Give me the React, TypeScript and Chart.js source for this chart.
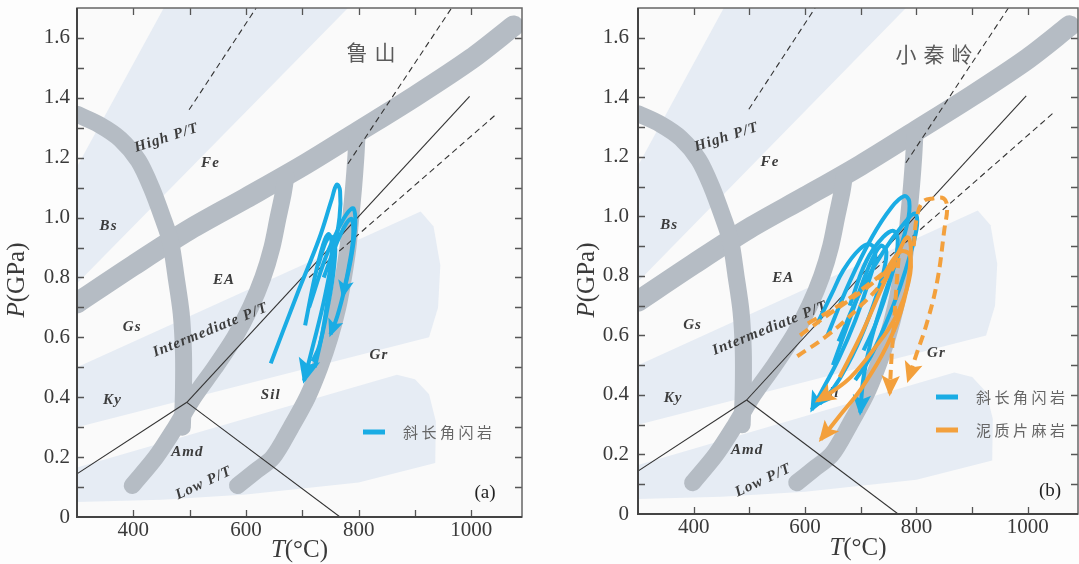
import React, { useEffect, useRef } from "react";
import { Chart, registerables } from "chart.js";

Chart.register(...registerables);

type Pt = [number, number];

const CANVAS_H = 564;
const BLUE = "#1aace4";
const ORANGE = "#f3a03c";
const GRAY = "#b5bcc4";
const BAND = "#e6ecf4";
const PLOT_BG = "#fafafa";
const PAGE_BG = "#fdfdfd";
const INK = "#3a3a3a";
const SERIF = '"Liberation Serif", "DejaVu Serif", serif';
const CJK = '"Noto Sans CJK SC", "Noto Sans CJK JP", sans-serif';

// ---- axes ----
const T_RANGE: Pt = [300, 1090];
const P_RANGE: Pt = [0, 1.7];
const xLabelValues = [400, 600, 800, 1000];
const xTickMarks = [400, 500, 600, 700, 800, 900, 1000];
const yTickMarks = [0.1, 0.2, 0.3, 0.4, 0.5, 0.6, 0.7, 0.8, 0.9, 1.0, 1.1, 1.2, 1.3, 1.4, 1.5, 1.6];

// ---- facies-series bands (T °C, P GPa) ----
const bandHighPT: Pt[] = [[454, 1.7], [781, 1.7], [300, 0.78], [300, 1.17]];
const bandInterPT: Pt[] = [[300, 0.3], [300, 0.5], [910, 1.02], [933, 0.97], [945, 0.84], [941, 0.7], [925, 0.6]];
const bandLowPT: Pt[] = [[300, 0.05], [300, 0.165], [868, 0.475], [900, 0.46], [925, 0.41], [937, 0.32], [936, 0.18], [800, 0.115], [600, 0.075], [450, 0.058]];

// ---- facies boundaries (thick gray) ----
const zoneDiag: Pt[] = [[300, 0.715], [400, 0.84], [500, 0.96], [600, 1.065], [700, 1.172], [800, 1.288], [900, 1.405], [1000, 1.53], [1075, 1.64]];
const zoneBs: Pt[] = [[300, 1.345], [340, 1.31], [377, 1.262], [409, 1.19], [432, 1.1], [452, 1.0], [466, 0.92], [476, 0.8], [485, 0.68], [489, 0.55], [489, 0.42], [487, 0.3]];
const zoneEA: Pt[] = [[398, 0.105], [440, 0.2], [475, 0.3], [507, 0.4], [545, 0.5], [580, 0.6], [608, 0.7], [630, 0.8], [646, 0.9], [657, 1.0], [666, 1.08], [671, 1.14]];
const zoneGr: Pt[] = [[585, 0.105], [615, 0.15], [648, 0.2], [680, 0.3], [709, 0.4], [731, 0.5], [749, 0.6], [763, 0.7], [773, 0.8], [781, 0.9], [786, 1.0], [791, 1.1], [795, 1.2], [797, 1.27]];

// ---- Al2SiO5 lines (thin) and dashed lines ----
const alKyAnd: Pt[] = [[300, 0.144], [495, 0.383]];
const alKySil: Pt[] = [[495, 0.383], [997, 1.405]];
const alAndSil: Pt[] = [[495, 0.383], [767, 0]];
const dashA: Pt[] = [[499, 1.36], [618, 1.7]];
const dashB: Pt[] = [[781, 1.18], [965, 1.7]];
const dashC: Pt[] = [[712, 0.8], [1046, 1.348]];

// ---- P-T paths, 鲁山 ----
const luBlue1: Pt[] = [[644, 0.513], [690, 0.74], [730, 0.93], [752, 1.06], [761, 1.11], [767, 1.09], [766, 1.0], [753, 0.86], [737, 0.71], [720, 0.58], [703, 0.455]];
const luBlue2: Pt[] = [[705, 0.64], [722, 0.8], [737, 0.91], [746, 0.945], [752, 0.92], [750, 0.82], [743, 0.7], [733, 0.59], [722, 0.5]];
const luBlue3: Pt[] = [[712, 0.7], [742, 0.87], [766, 0.97], [782, 1.02], [791, 1.03], [794, 0.98], [788, 0.88], [776, 0.77], [762, 0.67], [750, 0.61]];
const luBlue4: Pt[] = [[738, 0.8], [760, 0.91], [778, 0.98], [788, 0.995], [790, 0.93], [782, 0.83], [772, 0.74]];
const luBlue5: Pt[] = [[728, 0.84], [745, 0.93], [757, 0.93], [756, 0.83], [744, 0.69], [730, 0.57], [718, 0.52]];

// ---- P-T paths, 小秦岭 ----
const xqBlue1: Pt[] = [[622, 0.64], [648, 0.74], [669, 0.82], [698, 0.89], [718, 0.905], [726, 0.87], [714, 0.78], [690, 0.65], [660, 0.52], [632, 0.42], [612, 0.35]];
const xqBlue2: Pt[] = [[640, 0.6], [680, 0.78], [720, 0.93], [755, 1.03], [778, 1.068], [787, 1.05], [784, 0.98], [765, 0.86], [740, 0.72], [718, 0.58], [705, 0.46], [699, 0.34]];
const xqBlue3: Pt[] = [[660, 0.58], [700, 0.75], [740, 0.88], [775, 0.97], [797, 1.01], [801, 0.97], [790, 0.88], [770, 0.76], [745, 0.64], [715, 0.52], [690, 0.45]];
const xqBlue4: Pt[] = [[650, 0.5], [685, 0.68], [712, 0.82], [735, 0.9], [746, 0.88], [736, 0.78], [706, 0.62], [676, 0.5], [650, 0.42], [626, 0.37]];
const xqBlue5: Pt[] = [[680, 0.7], [710, 0.85], [740, 0.93], [760, 0.95], [766, 0.9], [752, 0.78], [727, 0.64], [705, 0.55]];
const xqOrange1: Pt[] = [[795, 0.9], [801, 1.0], [812, 1.05], [830, 1.06], [849, 1.06], [855, 1.03], [850, 0.955], [838, 0.79], [820, 0.65], [797, 0.52], [785, 0.45]];
const xqOrange2: Pt[] = [[768, 0.86], [765, 0.79], [760, 0.65], [755, 0.52], [752, 0.405]];
const xqOrange3: Pt[] = [[586, 0.53], [640, 0.6], [700, 0.7], [740, 0.78], [770, 0.86]];
const xqOrange4: Pt[] = [[591, 0.6], [645, 0.674], [705, 0.752], [750, 0.82]];
const xqOrange5: Pt[] = [[605, 0.64], [660, 0.7], [720, 0.78], [760, 0.84]];
const xqOrange6: Pt[] = [[740, 0.8], [770, 0.88], [788, 0.87], [786, 0.78], [762, 0.66], [722, 0.55], [682, 0.46], [648, 0.41], [622, 0.38]];
const xqOrange7: Pt[] = [[662, 0.46], [700, 0.6], [738, 0.76], [768, 0.88], [784, 0.93], [790, 0.88], [778, 0.72], [748, 0.57], [704, 0.43], [662, 0.33], [628, 0.25]];

const faciesLabels = [
  { text: "High P/T", t: 459, p: 1.266, rot: -18 },
  { text: "Fe", t: 537, p: 1.183, rot: 0 },
  { text: "Bs", t: 356, p: 0.972, rot: 0 },
  { text: "EA", t: 561, p: 0.791, rot: 0 },
  { text: "Gs", t: 398, p: 0.634, rot: 0 },
  { text: "Intermediate P/T", t: 537, p: 0.624, rot: -22 },
  { text: "Ky", t: 363, p: 0.39, rot: 0 },
  { text: "Sil", t: 644, p: 0.407, rot: 0 },
  { text: "Gr", t: 836, p: 0.541, rot: 0 },
  { text: "Amd", t: 496, p: 0.216, rot: 0 },
  { text: "Low P/T", t: 525, p: 0.113, rot: -25 },
];

interface PathDef { pts: Pt[]; color: string; dashed: boolean; arrow: number }
interface LegendDef { text: string; color: string }
interface Panel {
  key: string; left: number; width: number; padRight: number; yAxisW: number; xAxisH: number; yPad: number;
  title: string; titleX: number; titleY: number; letter: string; letterX: number; letterY: number;
  legendX: number; legendYs: number[]; legend: LegendDef[]; pTitleX: number; tTitleY: number; paths: PathDef[];
}

const panels: Panel[] = [
  {
    key: "a", left: 0, width: 540, padRight: 18, yAxisW: 77, xAxisH: 47, yPad: 7,
    title: "鲁山", titleX: 371, titleY: 52, letter: "(a)", letterX: 485, letterY: 493,
    legendX: 363, legendYs: [432], legend: [{ text: "斜长角闪岩", color: BLUE }],
    pTitleX: 17, tTitleY: 550,
    paths: [
      { pts: luBlue5, color: BLUE, dashed: false, arrow: 0 },
      { pts: luBlue2, color: BLUE, dashed: false, arrow: 0 },
      { pts: luBlue4, color: BLUE, dashed: false, arrow: 18 },
      { pts: luBlue3, color: BLUE, dashed: false, arrow: 18 },
      { pts: luBlue1, color: BLUE, dashed: false, arrow: 25 },
    ],
  },
  {
    key: "b", left: 540, width: 539, padRight: 1, yAxisW: 98, xAxisH: 50, yPad: 9,
    title: "小秦岭", titleX: 394, titleY: 54, letter: "(b)", letterX: 510, letterY: 491,
    legendX: 396, legendYs: [397, 430], legend: [{ text: "斜长角闪岩", color: BLUE }, { text: "泥质片麻岩", color: ORANGE }],
    pTitleX: 47, tTitleY: 548,
    paths: [
      { pts: xqBlue5, color: BLUE, dashed: false, arrow: 0 },
      { pts: xqBlue3, color: BLUE, dashed: false, arrow: 0 },
      { pts: xqBlue4, color: BLUE, dashed: false, arrow: 15 },
      { pts: xqBlue1, color: BLUE, dashed: false, arrow: 21 },
      { pts: xqBlue2, color: BLUE, dashed: false, arrow: 21 },
      { pts: xqOrange3, color: ORANGE, dashed: true, arrow: 0 },
      { pts: xqOrange4, color: ORANGE, dashed: true, arrow: 0 },
      { pts: xqOrange5, color: ORANGE, dashed: true, arrow: 0 },
      { pts: xqOrange6, color: ORANGE, dashed: false, arrow: 21 },
      { pts: xqOrange7, color: ORANGE, dashed: false, arrow: 21 },
      { pts: xqOrange2, color: ORANGE, dashed: true, arrow: 21 },
      { pts: xqOrange1, color: ORANGE, dashed: true, arrow: 21 },
    ],
  },
];

const xy = (pts: Pt[]) => pts.map(([x, y]) => ({ x, y }));

function drawSpaced(ctx: CanvasRenderingContext2D, text: string, cx: number, cy: number, font: string, gap: number, color: string, align: "center" | "left") {
  ctx.save();
  ctx.font = font;
  ctx.fillStyle = color;
  ctx.textBaseline = "middle";
  ctx.textAlign = "left";
  const chars = Array.from(text);
  const widths = chars.map((c) => ctx.measureText(c).width);
  const total = widths.reduce((a, b) => a + b, 0) + gap * (chars.length - 1);
  let x = align === "center" ? cx - total / 2 : cx;
  chars.forEach((c, i) => {
    ctx.fillText(c, x, cy);
    x += widths[i] + gap;
  });
  ctx.restore();
}

function drawMixed(ctx: CanvasRenderingContext2D, parts: [string, string][], cx: number, cy: number, rotate: boolean) {
  ctx.save();
  ctx.translate(cx, cy);
  if (rotate) ctx.rotate(-Math.PI / 2);
  ctx.fillStyle = INK;
  ctx.textBaseline = "middle";
  ctx.textAlign = "left";
  let total = 0;
  const ws = parts.map(([t, f]) => { ctx.font = f; const w = ctx.measureText(t).width; total += w; return w; });
  let x = -total / 2;
  parts.forEach(([t, f], i) => { ctx.font = f; ctx.fillText(t, x, 0); x += ws[i]; });
  ctx.restore();
}

function buildConfig(panel: Panel): any {
  const datasets: any[] = [];
  const base = { pointRadius: 0, pointHoverRadius: 0, fill: false, clip: 0, showLine: true, spanGaps: true };
  for (const b of [bandHighPT, bandInterPT, bandLowPT]) {
    datasets.push({ ...base, data: xy(b), fill: "shape", backgroundColor: BAND, borderColor: "rgba(0,0,0,0)", borderWidth: 0, tension: 0 });
  }
  datasets.push({ ...base, data: xy(zoneDiag), borderColor: GRAY, borderWidth: 21, tension: 0.3, borderCapStyle: "round", borderJoinStyle: "round" });
  for (const z of [zoneBs, zoneEA, zoneGr]) {
    datasets.push({ ...base, data: xy(z), borderColor: GRAY, borderWidth: 17, tension: 0.3, borderCapStyle: "round", borderJoinStyle: "round" });
  }
  for (const l of [alKyAnd, alKySil, alAndSil]) {
    datasets.push({ ...base, data: xy(l), borderColor: "#333", borderWidth: 1.1, tension: 0 });
  }
  for (const l of [dashA, dashB, dashC]) {
    datasets.push({ ...base, data: xy(l), borderColor: "#333", borderWidth: 1.1, borderDash: [6, 4], tension: 0 });
  }
  datasets[datasets.length - 1].labelsAfter = true;
  for (const p of panel.paths) {
    datasets.push({
      ...base, data: xy(p.pts), borderColor: p.color, borderWidth: 4, tension: 0.4,
      borderCapStyle: "butt", borderJoinStyle: "round", borderDash: p.dashed ? [10, 6] : [],
      arrow: p.arrow, arrowColor: p.color,
    });
  }
  datasets.forEach((d, i) => { d.order = datasets.length - i; });

  const plugin = {
    id: "petro" + panel.key,
    beforeDatasetsDraw(chart: any) {
      const { ctx, chartArea: a } = chart;
      ctx.save();
      ctx.fillStyle = PLOT_BG;
      ctx.fillRect(a.left, a.top, a.right - a.left, a.bottom - a.top);
      ctx.restore();
    },
    afterDatasetDraw(chart: any, args: any) {
      const ds = chart.data.datasets[args.index];
      const ctx: CanvasRenderingContext2D = chart.ctx;
      const xs = chart.scales.x, ys = chart.scales.y;
      if (ds.labelsAfter) {
        ctx.save();
        const a = chart.chartArea;
        ctx.beginPath(); ctx.rect(a.left, a.top, a.right - a.left, a.bottom - a.top); ctx.clip();
        ctx.font = `italic bold 15px ${SERIF}`;
        ctx.fillStyle = "#3c3c3c";
        ctx.textAlign = "center";
        ctx.textBaseline = "middle";
        try { (ctx as any).letterSpacing = "1.1px"; } catch (e) { /* ignore */ }
        for (const lb of faciesLabels) {
          ctx.save();
          ctx.translate(xs.getPixelForValue(lb.t), ys.getPixelForValue(lb.p));
          ctx.rotate((lb.rot * Math.PI) / 180);
          ctx.fillText(lb.text, 0, 0);
          ctx.restore();
        }
        ctx.restore();
      }
      if (ds.arrow) {
        const pts = chart.getDatasetMeta(args.index).data;
        const n = pts.length;
        const tip = pts[n - 1];
        const prev = pts[n - 2];
        const ang = Math.atan2(tip.y - prev.y, tip.x - prev.x);
        const L = ds.arrow, W = ds.arrow * 0.44;
        const tx = tip.x + Math.cos(ang) * 3, ty = tip.y + Math.sin(ang) * 3;
        const bx = tx - Math.cos(ang) * L, by = ty - Math.sin(ang) * L;
        ctx.save();
        ctx.fillStyle = ds.arrowColor;
        ctx.beginPath();
        ctx.moveTo(tx, ty);
        ctx.lineTo(bx + Math.sin(ang) * W, by - Math.cos(ang) * W);
        ctx.lineTo(tx - Math.cos(ang) * L * 0.78, ty - Math.sin(ang) * L * 0.78);
        ctx.lineTo(bx - Math.sin(ang) * W, by + Math.cos(ang) * W);
        ctx.closePath();
        ctx.fill();
        ctx.restore();
      }
    },
    afterDatasetsDraw(chart: any) {
      const ctx: CanvasRenderingContext2D = chart.ctx;
      const a = chart.chartArea;
      const xs = chart.scales.x, ys = chart.scales.y;
      ctx.save();
      // inner tick marks
      ctx.strokeStyle = "#555";
      ctx.lineWidth = 1.3;
      ctx.beginPath();
      for (const t of xTickMarks) {
        const px = Math.round(xs.getPixelForValue(t)) + 0.5;
        ctx.moveTo(px, a.bottom); ctx.lineTo(px, a.bottom - 7);
        ctx.moveTo(px, a.top); ctx.lineTo(px, a.top + 7);
      }
      for (const v of yTickMarks) {
        const py = Math.round(ys.getPixelForValue(v)) + 0.5;
        ctx.moveTo(a.left, py); ctx.lineTo(a.left + 7, py);
        ctx.moveTo(a.right, py); ctx.lineTo(a.right - 7, py);
      }
      ctx.stroke();
      // frame
      ctx.strokeStyle = "#666";
      ctx.lineWidth = 1.5;
      ctx.strokeRect(a.left, a.top, a.right - a.left, a.bottom - a.top);
      ctx.strokeStyle = "#444";
      ctx.lineWidth = 2;
      ctx.beginPath();
      ctx.moveTo(a.left, a.top); ctx.lineTo(a.left, a.bottom); ctx.lineTo(a.right, a.bottom);
      ctx.stroke();
      // x tick labels
      ctx.font = `21px ${SERIF}`;
      ctx.fillStyle = INK;
      ctx.textAlign = "center";
      ctx.textBaseline = "middle";
      for (const v of xLabelValues) {
        ctx.fillText(String(v), xs.getPixelForValue(v), a.bottom + 13);
      }
      ctx.restore();

      // title of region
      drawSpaced(ctx, panel.title, panel.titleX, panel.titleY, `21px ${CJK}`, 7, "#5a5a5a", "center");
      // panel letter
      ctx.save();
      ctx.font = `19px ${SERIF}`;
      ctx.fillStyle = "#222";
      ctx.textAlign = "center";
      ctx.textBaseline = "middle";
      ctx.fillText(panel.letter, panel.letterX, panel.letterY);
      ctx.restore();
      // legend
      panel.legend.forEach((lg, i) => {
        const y = panel.legendYs[i];
        ctx.save();
        ctx.strokeStyle = lg.color;
        ctx.lineWidth = 5;
        ctx.beginPath();
        ctx.moveTo(panel.legendX, y); ctx.lineTo(panel.legendX + 22, y);
        ctx.stroke();
        ctx.restore();
        drawSpaced(ctx, lg.text, panel.legendX + 40, y, `15px ${CJK}`, 3.5, "#666", "left");
      });
      // axis titles
      drawMixed(ctx, [["P", `italic 25px ${SERIF}`], ["(GPa)", `25px ${SERIF}`]], panel.pTitleX, 280, true);
      drawMixed(ctx, [["T", `italic 25px ${SERIF}`], ["(°C)", `25px ${SERIF}`]], (a.left + a.right) / 2, panel.tTitleY, false);
    },
  };

  return {
    type: "line",
    data: { datasets },
    options: {
      animation: false,
      responsive: false,
      devicePixelRatio: 1,
      events: [],
      layout: { padding: { top: 8, right: panel.padRight, bottom: 0, left: 0 } },
      plugins: { legend: { display: false }, tooltip: { enabled: false } },
      scales: {
        x: {
          type: "linear",
          min: T_RANGE[0],
          max: T_RANGE[1],
          afterFit: (s: any) => { s.height = panel.xAxisH; s.paddingLeft = 0; s.paddingRight = 0; },
          grid: { display: false, drawTicks: false },
          border: { display: false },
          ticks: { display: false, stepSize: 100 },
        },
        y: {
          type: "linear",
          min: P_RANGE[0],
          max: P_RANGE[1],
          afterFit: (s: any) => { s.width = panel.yAxisW; s.paddingTop = 0; s.paddingBottom = 0; },
          grid: { display: false, drawTicks: false },
          border: { display: false },
          ticks: {
            stepSize: 0.2, autoSkip: false, padding: panel.yPad,
            font: { family: SERIF, size: 21 }, color: INK,
            callback: (v: number) => (v > 1.65 ? null : Math.abs(v) < 1e-9 ? "0" : v.toFixed(1)),
          },
        },
      },
    },
    plugins: [plugin],
  };
}

function PanelChart({ panel }: { panel: Panel }) {
  const ref = useRef<HTMLCanvasElement>(null);
  useEffect(() => {
    const canvas = ref.current;
    if (!canvas) return;
    const chart = new Chart(canvas, buildConfig(panel));
    return () => chart.destroy();
  }, [panel]);
  return (
    <canvas
      ref={ref}
      width={panel.width}
      height={CANVAS_H}
      style={{ position: "absolute", left: panel.left, top: 0, width: panel.width, height: CANVAS_H }}
    />
  );
}

export default function App() {
  return (
    <div style={{ position: "fixed", left: 0, top: 0, width: 1079, height: CANVAS_H, background: PAGE_BG, overflow: "hidden" }}>
      {panels.map((p) => (
        <PanelChart key={p.key} panel={p} />
      ))}
    </div>
  );
}
